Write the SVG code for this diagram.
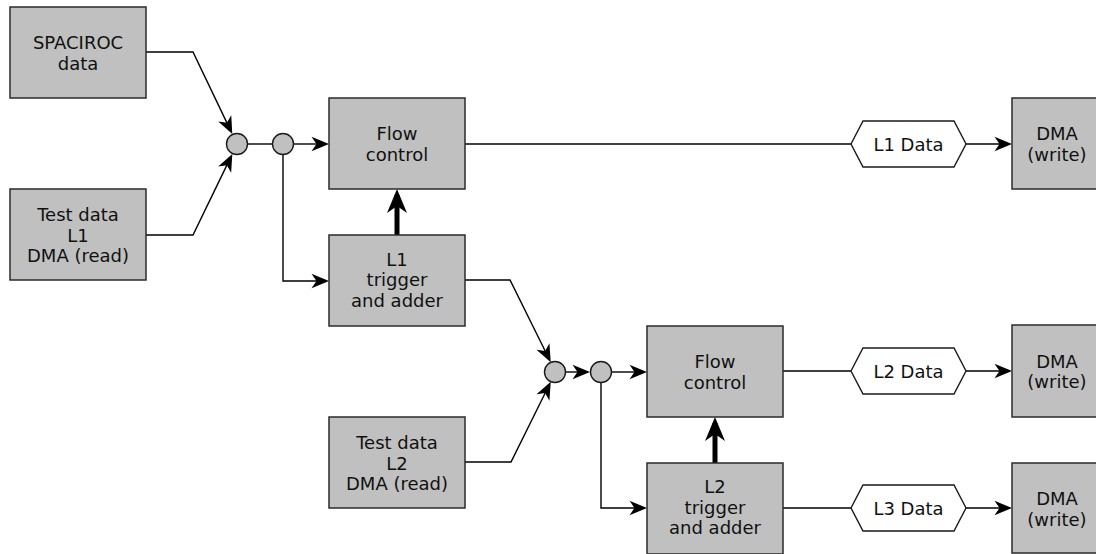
<svg xmlns="http://www.w3.org/2000/svg" width="1096" height="554" viewBox="0 0 1096 554">
  <style>
    .box { fill: #c0c0c0; stroke: #2b2b2b; stroke-width: 1.5; }
    .junction { fill: #c0c0c0; stroke: #1a1a1a; stroke-width: 1.4; }
    .tag { fill: #ffffff; stroke: #1a1a1a; stroke-width: 1.4; }
    .wire { fill: none; stroke: #000000; stroke-width: 1.4; }
    .wire-arrow { fill: none; stroke: #000000; stroke-width: 1.4; marker-end: url(#arrow); }
    .bus-arrow { fill: none; stroke: #000000; stroke-width: 5; marker-end: url(#arrow-bold); }
    text { font-family: "DejaVu Sans", "Liberation Sans", sans-serif; font-size: 18px; fill: #111111; text-anchor: middle; }
  </style>
  <defs>
    <marker id="arrow" markerUnits="userSpaceOnUse" viewBox="-18 -8 19 16" markerWidth="19" markerHeight="16" refX="-3" refY="0" orient="auto">
      <path d="M0,0 L-17.5,-7.2 L-12.5,0 L-17.5,7.2 Z" fill="#000000"/>
    </marker>
    <marker id="arrow-bold" markerUnits="userSpaceOnUse" viewBox="-24 -11 25 22" markerWidth="25" markerHeight="22" refX="-6" refY="0" orient="auto">
      <path d="M0,0 L-24,-10 L-17,0 L-24,10 Z" fill="#000000"/>
    </marker>
  </defs>

  <!-- connectors -->
  <g id="connectors">
    <!-- level 1 inputs into the first merge point -->
    <path class="wire-arrow" d="M146,52 L193,52 L231,131.4"/>
    <path class="wire-arrow" d="M146,235 L193,235 L231,156.6"/>
    <path class="wire" d="M248,144 L272,144"/>
    <path class="wire-arrow" d="M294,144 L326,144"/>
    <path class="wire-arrow" d="M283,155 L283,281 L326,281"/>
    <path class="bus-arrow" d="M397,235 L397,195"/>
    <!-- level 1 output -->
    <path class="wire" d="M465,144 L851,144"/>
    <path class="wire-arrow" d="M966,144 L1009,144"/>
    <!-- level 2 inputs into the second merge point -->
    <path class="wire-arrow" d="M465,280 L510,280 L549.4,359.5"/>
    <path class="wire-arrow" d="M465,462 L511,462 L549.4,384.5"/>
    <path class="wire-arrow" d="M566,372 L587,372"/>
    <path class="wire-arrow" d="M612,372 L644,372"/>
    <path class="wire-arrow" d="M601,383 L601,508 L644,508"/>
    <path class="bus-arrow" d="M715,463 L715,423"/>
    <!-- level 2 and level 3 outputs -->
    <path class="wire" d="M783,371 L851,371"/>
    <path class="wire-arrow" d="M966,371 L1009,371"/>
    <path class="wire" d="M783,508 L851,508"/>
    <path class="wire-arrow" d="M966,508 L1009,508"/>
  </g>

  <!-- sources -->
  <g id="spaciroc">
    <rect class="box" x="10" y="7" width="136" height="91"/>
    <text x="78" y="49">SPACIROC</text>
    <text x="78" y="69.5">data</text>
  </g>
  <g id="test-l1">
    <rect class="box" x="10" y="189" width="136" height="91"/>
    <text x="78" y="221">Test data</text>
    <text x="78" y="241.5">L1</text>
    <text x="78" y="262">DMA (read)</text>
  </g>

  <!-- merge points -->
  <g id="merge-1"><circle class="junction" cx="237" cy="144" r="10.5"/></g>
  <g id="split-1"><circle class="junction" cx="283" cy="144" r="10.5"/></g>
  <g id="merge-2"><circle class="junction" cx="555" cy="372" r="10.5"/></g>
  <g id="split-2"><circle class="junction" cx="601" cy="372" r="10.5"/></g>

  <!-- level 1 -->
  <g id="flow-1">
    <rect class="box" x="329" y="98" width="136" height="91"/>
    <text x="397" y="140">Flow</text>
    <text x="397" y="160.5">control</text>
  </g>
  <g id="trigger-l1">
    <rect class="box" x="329" y="235" width="136" height="91"/>
    <text x="397" y="265.5">L1</text>
    <text x="397" y="286">trigger</text>
    <text x="397" y="306.5">and adder</text>
  </g>
  <g id="test-l2">
    <rect class="box" x="329" y="417" width="136" height="91"/>
    <text x="397" y="449">Test data</text>
    <text x="397" y="469.5">L2</text>
    <text x="397" y="490">DMA (read)</text>
  </g>

  <!-- level 2 -->
  <g id="flow-2">
    <rect class="box" x="647" y="326" width="136" height="91"/>
    <text x="715" y="368">Flow</text>
    <text x="715" y="388.5">control</text>
  </g>
  <g id="trigger-l2">
    <rect class="box" x="647" y="463" width="136" height="91"/>
    <text x="715" y="493">L2</text>
    <text x="715" y="513.5">trigger</text>
    <text x="715" y="534">and adder</text>
  </g>

  <!-- data tags -->
  <g id="l1-data">
    <polygon class="tag" points="851,144 863,121 954,121 966,144 954,167 863,167"/>
    <text x="908.5" y="150.5">L1 Data</text>
  </g>
  <g id="l2-data">
    <polygon class="tag" points="851,371 863,348 954,348 966,371 954,394 863,394"/>
    <text x="908.5" y="377.5">L2 Data</text>
  </g>
  <g id="l3-data">
    <polygon class="tag" points="851,508 863,485 954,485 966,508 954,531 863,531"/>
    <text x="908.5" y="514.5">L3 Data</text>
  </g>

  <!-- DMA writers -->
  <g id="dma-1">
    <rect class="box" x="1012" y="98" width="92" height="91"/>
    <text x="1057" y="140">DMA</text>
    <text x="1057" y="160.5">(write)</text>
  </g>
  <g id="dma-2">
    <rect class="box" x="1012" y="325" width="92" height="92"/>
    <text x="1057" y="367.5">DMA</text>
    <text x="1057" y="388">(write)</text>
  </g>
  <g id="dma-3">
    <rect class="box" x="1012" y="463" width="92" height="90"/>
    <text x="1057" y="505">DMA</text>
    <text x="1057" y="525.5">(write)</text>
  </g>
</svg>
